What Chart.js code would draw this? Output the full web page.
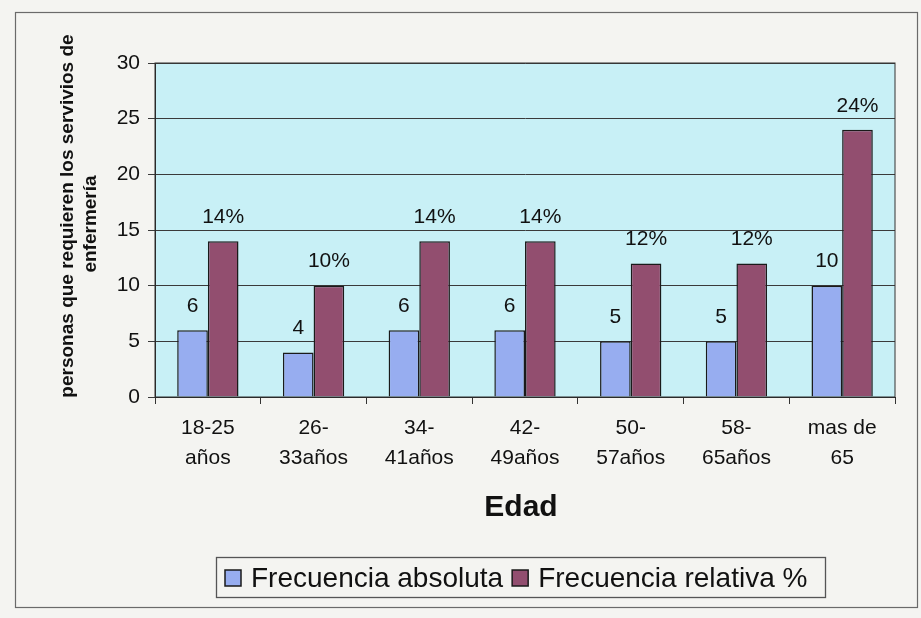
<!DOCTYPE html>
<html>
<head>
<meta charset="utf-8">
<script src="https://cdn.jsdelivr.net/npm/chart.js@4"></script>
<style>
  html, body { margin: 0; padding: 0; background: #f3f3f0; }
</style>
</head>
<body>
<canvas id="chart" width="921" height="618"></canvas>
<script>
const ageGroups = [["18-25", "años"], ["26-", "33años"], ["34-", "41años"], ["42-", "49años"], ["50-", "57años"], ["58-", "65años"], ["mas de", "65"]];
const absoluta = [6, 4, 6, 6, 5, 5, 10];
const relativa = [14, 10, 14, 14, 12, 12, 24];
const yTicks = [0, 5, 10, 15, 20, 25, 30];
const yTitle = ["personas que requieren los servivios de", "enfermería"];
const xTitle = "Edad";

const FONT = "'Liberation Sans', Arial, sans-serif";

// frame, plot background, titles, value labels and the boxed legend
const framePlugin = {
  id: "frame",
  beforeDraw(chart) {
    const ctx = chart.ctx;
    const a = chart.chartArea;
    ctx.save();
    ctx.fillStyle = "#f4f4f1";
    ctx.fillRect(0, 0, chart.width, chart.height);
    ctx.strokeStyle = "#6a6a6a";
    ctx.lineWidth = 1.2;
    ctx.strokeRect(15.5, 12.5, 902, 595);
    ctx.fillStyle = "#c8f0f6";
    ctx.fillRect(a.left, a.top, a.right - a.left, a.bottom - a.top);
    ctx.restore();
  },
  afterDraw(chart) {
    const ctx = chart.ctx;
    const a = chart.chartArea;
    ctx.save();
    ctx.strokeStyle = "#333";
    ctx.lineWidth = 1;
    ctx.strokeRect(a.left, a.top, a.right - a.left, a.bottom - a.top);

    // value labels
    ctx.fillStyle = "#111";
    ctx.font = "21px " + FONT;
    ctx.textAlign = "center";
    ctx.textBaseline = "middle";
    chart.data.datasets.forEach((ds, i) => {
      chart.getDatasetMeta(i).data.forEach((bar, j) => {
        const txt = i === 1 ? ds.data[j] + "%" : String(ds.data[j]);
        ctx.fillText(txt, bar.x, bar.y - 24);
      });
    });

    // y title
    ctx.save();
    ctx.translate(0, 0);
    ctx.rotate(-Math.PI / 2);
    ctx.font = "bold 19px " + FONT;
    ctx.fillText(yTitle[0], -216, 68);
    ctx.fillText(yTitle[1], -224, 91);
    ctx.restore();

    // x title
    ctx.font = "bold 30px " + FONT;
    ctx.fillText(xTitle, (a.left + a.right) / 2 - 4, 508);

    // legend
    ctx.strokeStyle = "#555";
    ctx.lineWidth = 1.3;
    ctx.strokeRect(216.5, 557.5, 609, 40);
    ctx.font = "28px " + FONT;
    ctx.textAlign = "left";
    let x = 225;
    const cy = 578;
    chart.data.datasets.forEach(ds => {
      ctx.fillStyle = ds.backgroundColor;
      ctx.fillRect(x, cy - 8, 16, 16);
      ctx.strokeStyle = "#1a1a1a";
      ctx.lineWidth = 1.5;
      ctx.strokeRect(x, cy - 8, 16, 16);
      ctx.fillStyle = "#111";
      ctx.fillText(ds.label, x + 26, cy + 1);
      x += 26 + ctx.measureText(ds.label).width + 9;
    });
    ctx.restore();
  }
};

new Chart(document.getElementById("chart"), {
  type: "bar",
  data: {
    labels: ageGroups,
    datasets: [
      {
        label: "Frecuencia absoluta",
        data: absoluta,
        backgroundColor: "#97adf0",
        borderColor: "#1a1a1a",
        borderWidth: 1.5
      },
      {
        label: "Frecuencia relativa %",
        data: relativa,
        backgroundColor: "#924e6f",
        borderColor: "#1a1a1a",
        borderWidth: 1.5
      }
    ]
  },
  options: {
    responsive: false,
    animation: false,
    layout: { padding: { left: 0, right: 26, top: 63, bottom: 0 } },
    datasets: {
      bar: { categoryPercentage: 0.58, barPercentage: 1.0 }
    },
    plugins: {
      legend: { display: false },
      tooltip: { enabled: false }
    },
    scales: {
      x: {
        grid: {
          display: true,
          drawOnChartArea: false,
          offset: true,
          tickLength: 7,
          color: "#333"
        },
        border: { color: "#222" },
        ticks: {
          font: { family: FONT, size: 21, lineHeight: 1.4 },
          color: "#111",
          padding: 10,
          maxRotation: 0
        },
        afterFit(scale) { scale.height = 221; }
      },
      y: {
        min: 0,
        max: 30,
        afterBuildTicks(scale) {
          scale.ticks = yTicks.map(v => ({ value: v }));
        },
        grid: {
          color: "#3a3a3a",
          tickLength: 7,
          lineWidth: 1
        },
        border: { color: "#222" },
        ticks: {
          font: { family: FONT, size: 21 },
          color: "#111",
          padding: 8
        },
        afterFit(scale) { scale.width = 155; }
      }
    }
  },
  plugins: [framePlugin]
});
</script>
</body>
</html>
